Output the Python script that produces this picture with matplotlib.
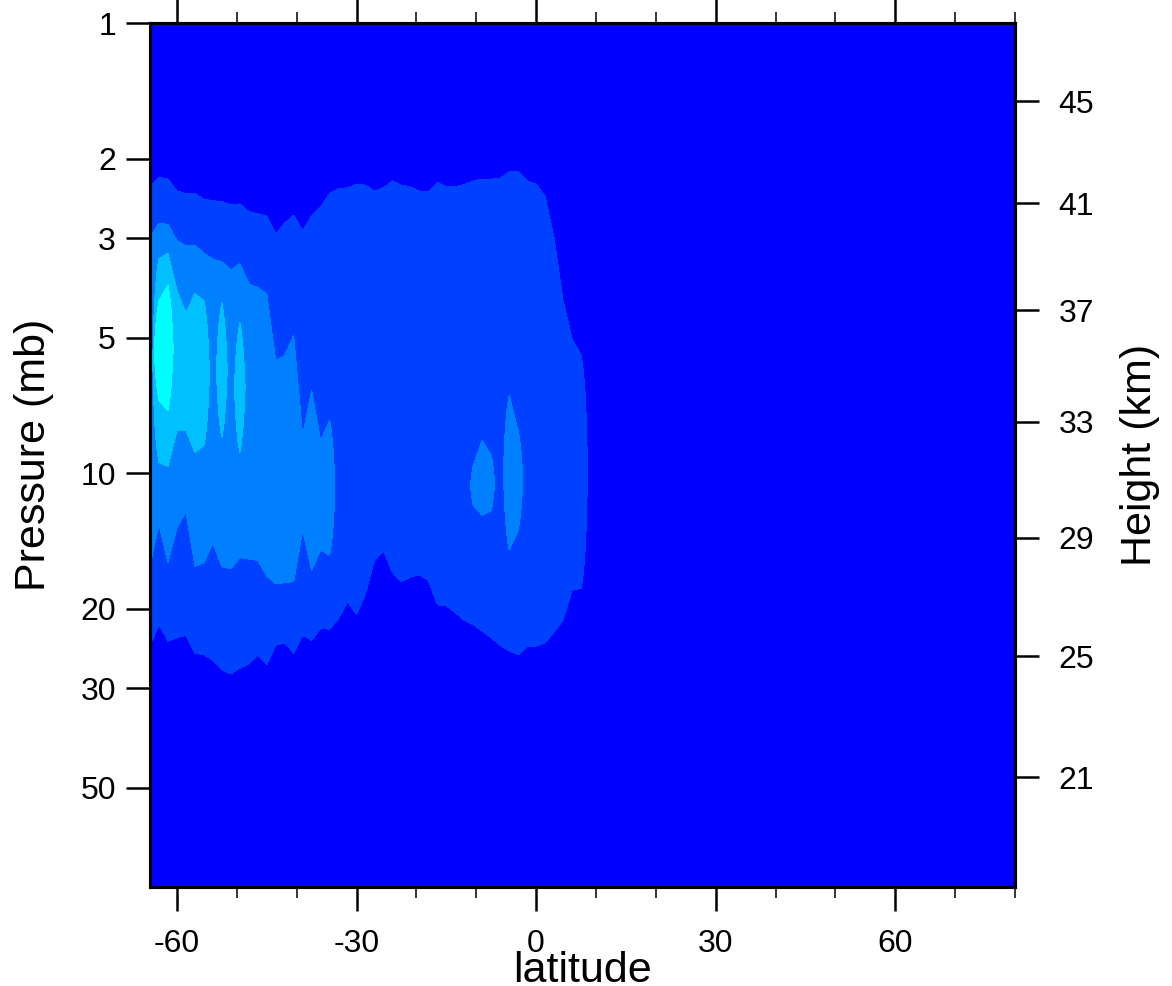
import numpy as np
import matplotlib
matplotlib.use("Agg")
import matplotlib.pyplot as plt
from matplotlib.ticker import MultipleLocator, NullLocator

plt.rcParams['font.family'] = ['Liberation Sans', 'DejaVu Sans']
plt.rcParams['axes.unicode_minus'] = False

nan = np.nan

# latitude columns of the field (deg)
lat = np.arange(-64.5, 11.0, 1.5)

# pressure bounds (mb) of each shaded band, per latitude column
band1_top = [2.30, 2.20, 2.22, 2.36, 2.39, 2.39, 2.46, 2.48, 2.49, 2.53,
             2.52, 2.62, 2.65, 2.68, 2.94, 2.78, 2.67, 2.89, 2.68, 2.56,
             2.39, 2.33, 2.32, 2.28, 2.29, 2.36, 2.32, 2.24, 2.29, 2.31,
             2.36, 2.37, 2.26, 2.31, 2.31, 2.28, 2.24, 2.22, 2.22, 2.21,
             2.14, 2.13, 2.24, 2.28, 2.42, 3.00, 4.13, 5.02, 5.47, nan, nan]
band1_bot = [24.1, 21.7, 23.6, 23.2, 22.9, 25.1, 25.3, 26.0, 27.3, 27.9,
             27.1, 26.5, 25.3, 26.6, 24.1, 23.8, 25.1, 22.9, 23.5, 22.1,
             22.2, 21.0, 19.3, 20.6, 18.5, 15.6, 14.9, 16.6, 17.4, 17.0,
             16.8, 17.3, 19.6, 19.7, 20.4, 21.2, 21.7, 22.4, 23.2, 24.1,
             24.8, 25.3, 24.3, 24.2, 23.8, 22.5, 21.2, 18.2, 18.0, nan, nan]

band2_top = [2.98, 2.78, 2.80, 3.04, 3.12, 3.11, 3.25, 3.34, 3.39, 3.53,
             3.42, 3.79, 3.87, 3.99, 5.62, 5.47, 4.94, 8.24, 6.55, 8.45,
             7.63, nan, nan, nan, nan, nan, nan, nan, nan, nan,
             nan, nan, nan, nan, nan, nan, 9.60, 8.45, 9.12, nan,
             6.72, 8.03]
band2_bot = [16.0, 13.0, 15.8, 13.2, 12.2, 16.1, 15.8, 14.3, 16.1, 16.3,
             15.4, 15.5, 15.6, 16.9, 17.6, 17.5, 17.4, 13.4, 16.4, 14.8,
             15.2, nan, nan, nan, nan, nan, nan, nan, nan, nan,
             nan, nan, nan, nan, nan, nan, 11.8, 12.4, 12.1, nan,
             14.8, 13.4]

band3_top = [nan, 3.34, 3.24, 3.93, 4.40, 3.99, 4.13, nan, 4.18, nan, 4.63]
band3_bot = [nan, 9.45, 9.65, 8.03, 8.03, 8.98, 8.67, nan, 8.32, nan, 8.98]

band4_top = [nan, 4.13, 3.83]
band4_bot = [nan, 6.89, 7.25]

band_colors = ['#0040ff', '#0080ff', '#00c0ff', '#00ffff']
background = '#0000ff'

p_ticks = [1, 2, 3, 5, 10, 20, 30, 50]
p_labels = ['1', '2', '3', '5', '10', '20', '30', '50']
lat_ticks = [-60, -30, 0, 30, 60]
lat_labels = ['-60', '-30', '0', '30', '60']
hgt_ticks_p = [1.49, 2.51, 4.34, 7.68, 13.9, 25.5, 47.3]
hgt_labels = ['45', '41', '37', '33', '29', '25', '21']

p_top, p_bot = 1.0, 83.0
p_grid = np.logspace(0, np.log10(p_bot), 400)


def band_field(top, bot):
    # signed distance (log10 p) to the band edges, positive inside
    n = len(lat)
    top = np.pad(np.asarray(top, float), (0, n - len(top)), constant_values=nan)
    bot = np.pad(np.asarray(bot, float), (0, n - len(bot)), constant_values=nan)
    lp = np.log10(p_grid)[:, None]
    d = np.minimum(lp - np.log10(top)[None, :], np.log10(bot)[None, :] - lp)
    return np.where(np.isnan(d), -0.1, d)


fig = plt.figure(figsize=(11.72, 9.86), dpi=100)
ax = fig.add_axes([0.128, 0.1004, 0.738, 0.876])
ax.set_facecolor(background)

bands = [(band1_top, band1_bot), (band2_top, band2_bot),
         (band3_top, band3_bot), (band4_top, band4_bot)]
for (top, bot), col in zip(bands, band_colors):
    ax.contourf(lat, p_grid, band_field(top, bot), levels=[0, 1], colors=[col])

ax.set_yscale('log')
ax.set_ylim(p_bot, p_top)
ax.set_xlim(-64.5, 80)

ax.set_xticks(lat_ticks)
ax.set_xticklabels(lat_labels)
ax.xaxis.set_minor_locator(MultipleLocator(10))
ax.set_yticks(p_ticks)
ax.set_yticklabels(p_labels)
ax.yaxis.set_minor_locator(NullLocator())

ax.tick_params(axis='x', which='major', direction='out', length=17.5, width=1.8,
               top=True, labelsize=23, pad=13)
ax.tick_params(axis='x', which='minor', direction='out', length=8.2, width=1.1, top=True)
ax.tick_params(axis='y', which='major', direction='out', length=17.5, width=1.8,
               right=False, labelsize=23, pad=7)

ax2 = ax.twinx()
ax2.set_yscale('log')
ax2.set_ylim(p_bot, p_top)
ax2.set_yticks(hgt_ticks_p)
ax2.set_yticklabels(hgt_labels)
ax2.yaxis.set_minor_locator(NullLocator())
ax2.tick_params(axis='y', which='major', direction='out', length=17.5, width=1.8,
                labelsize=23, pad=14)

for a in (ax, ax2):
    for s in a.spines.values():
        s.set_linewidth(2.2)

ax.set_xlabel('latitude', fontsize=31)
ax.xaxis.set_label_coords(0.5, -0.0745)
ax.set_ylabel('Pressure (mb)', fontsize=31)
ax.yaxis.set_label_coords(-0.111, 0.5)
ax2.set_ylabel('Height (km)', fontsize=31)
ax2.yaxis.set_label_coords(1.1214, 0.5)

fig.savefig('out.png', dpi=100)
